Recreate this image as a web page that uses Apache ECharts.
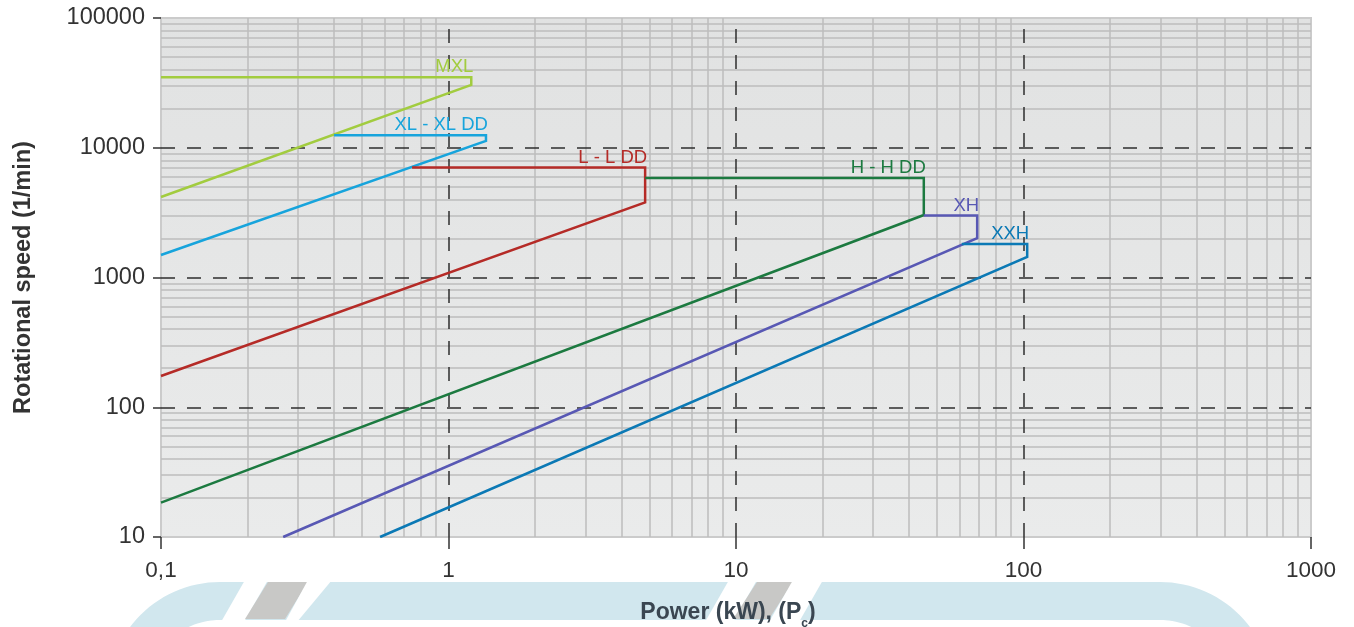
<!DOCTYPE html>
<html>
<head>
<meta charset="utf-8">
<title>Rotational speed vs power</title>
<script src="https://cdn.jsdelivr.net/npm/echarts@6/dist/echarts.min.js"></script>
<style>
  html, body { margin: 0; padding: 0; background: #fff; }
  #chart { width: 1354px; height: 627px; }
</style>
</head>
<body>
<div id="chart"></div>
<script>
// tick labels
const xTickLabels = ['0,1', '1', '10', '100', '1000']
const yTickLabels = ['10', '100', '1000', '10000', '100000']

// grid lines (decades dashed, 2..9 solid)
const xMajor = [1, 10, 100]
const yMajor = [100, 1000, 10000]
const xMinor = [0.2, 0.3, 0.4, 0.5, 0.6, 0.7, 0.8, 0.9, 2, 3, 4, 5, 6, 7, 8, 9,
  20, 30, 40, 50, 60, 70, 80, 90, 200, 300, 400, 500, 600, 700, 800, 900]
const yMinor = [20, 30, 40, 50, 60, 70, 80, 90, 200, 300, 400, 500, 600, 700, 800, 900,
  2000, 3000, 4000, 5000, 6000, 7000, 8000, 9000, 20000, 30000, 40000, 50000,
  60000, 70000, 80000, 90000]

// belt types: [power kW, speed 1/min]
const mxl = [[0.1, 35000], [1.2, 35000], [1.2, 30500], [0.1, 4170]]
const xl = [[0.4, 12500], [1.35, 12500], [1.35, 11300], [0.1, 1490]]
const lDD = [[0.747, 7050], [4.83, 7050], [4.83, 3790], [0.1, 174]]
const hDD = [[4.83, 5850], [45, 5850], [45, 3030], [0.1, 18.4]]
const xh = [[45, 3000], [69, 3000], [69, 2010], [0.266, 10]]
const xxh = [[61, 1810], [103, 1810], [103, 1440], [0.578, 10]]

const FONT = "'Liberation Sans', Arial, sans-serif"

function beltSeries(name, points, color) {
  return {
    name: name,
    type: 'line',
    z: 5,
    symbol: 'circle',
    symbolSize: 0,
    silent: true,
    animation: false,
    lineStyle: { color: color, width: 2.5, join: 'miter' },
    itemStyle: { color: color },
    data: points.map((p, i) => {
      if (i !== 1) return p
      return {
        value: p,
        label: {
          show: true,
          formatter: name,
          position: 'top',
          align: 'right',
          distance: 0.5,
          offset: [2, 0],
          color: color,
          fontSize: 18.5,
          fontFamily: FONT
        }
      }
    })
  }
}

// decorative band under the x axis
function arcPoints(cx, cy, r, a0, a1) {
  const pts = []
  for (let i = 0; i <= 30; i++) {
    const a = (a0 + (a1 - a0) * i / 30) * Math.PI / 180
    pts.push([cx + r * Math.cos(a), cy + r * Math.sin(a)])
  }
  return pts
}
const bandPts = arcPoints(220, 694.5, 93.5, 180, 270).concat(arcPoints(1160, 694.5, 93.5, 270, 360))

const chart = echarts.init(document.getElementById('chart'))
chart.setOption({
  backgroundColor: '#fff',
  animation: false,
  textStyle: { fontFamily: FONT },
  graphic: [
    { type: 'polyline', z: -10, silent: true, shape: { points: bandPts },
      style: { stroke: '#d1e7ee', lineWidth: 38, fill: null } },
    { type: 'polygon', z: -9, silent: true, shape: { points: [[245, 580], [268, 580], [244, 622], [221, 622]] }, style: { fill: '#fff' } },
    { type: 'polygon', z: -9, silent: true, shape: { points: [[268, 582], [308, 582], [285, 619], [245, 619]] }, style: { fill: '#c8c8c6' } },
    { type: 'polygon', z: -9, silent: true, shape: { points: [[308, 580], [332, 580], [297, 622], [285, 622]] }, style: { fill: '#fff' } },
    { type: 'polygon', z: -9, silent: true, shape: { points: [[729, 580], [757, 580], [733, 622], [705, 622]] }, style: { fill: '#fff' } },
    { type: 'polygon', z: -9, silent: true, shape: { points: [[757, 582], [793, 582], [769, 619], [733, 619]] }, style: { fill: '#c8c8c6' } },
    { type: 'polygon', z: -9, silent: true, shape: { points: [[793, 580], [823, 580], [799, 622], [769, 622]] }, style: { fill: '#fff' } }
  ],
  grid: {
    left: 161,
    right: 43,
    top: 18,
    bottom: 90,
    outerBoundsMode: 'none',
    show: true,
    backgroundColor: {
      type: 'linear', x: 0, y: 0, x2: 0, y2: 1,
      colorStops: [{ offset: 0, color: '#e1e2e2' }, { offset: 1, color: '#eaebeb' }]
    },
    borderColor: '#cbcbcb',
    borderWidth: 2
  },
  xAxis: {
    type: 'log',
    logBase: 10,
    min: 0.1,
    max: 1000,
    name: '{a|Power (kW), (P}{sub|c}{a|)}',
    nameLocation: 'middle',
    nameGap: 61,
    nameTextStyle: {
      padding: [0, 16, 0, 0],
      rich: {
        a: { fontSize: 23, fontWeight: 'bold', color: '#3a4651', lineHeight: 30, fontFamily: FONT },
        sub: { fontSize: 12, fontWeight: 'bold', color: '#3a4651', lineHeight: 14, padding: [22, 0, 0, 0], fontFamily: FONT }
      }
    },
    axisLine: { show: false },
    axisTick: { show: true, inside: false, length: 12, lineStyle: { color: '#333', width: 1.5 } },
    axisLabel: {
      margin: 22,
      fontSize: 22.5,
      color: '#333',
      fontFamily: FONT,
      formatter: (v, i) => xTickLabels[i]
    },
    splitLine: { show: false },
    minorTick: { show: false }
  },
  yAxis: {
    type: 'log',
    logBase: 10,
    min: 10,
    max: 100000,
    name: 'Rotational speed (1/min)',
    nameLocation: 'middle',
    nameRotate: 90,
    nameGap: 125,
    nameTextStyle: { fontSize: 23.5, fontWeight: 'bold', color: '#333', fontFamily: FONT },
    axisLine: { show: false },
    axisTick: { show: true, inside: false, length: 8, lineStyle: { color: '#333', width: 1.5 } },
    axisLabel: {
      margin: 16,
      fontSize: 23.5,
      color: '#333',
      fontFamily: FONT,
      formatter: (v, i) => yTickLabels[i]
    },
    splitLine: { show: false }
  },
  series: [
    {
      name: 'minor grid',
      type: 'line',
      z: 1,
      data: [],
      silent: true,
      markLine: {
        silent: true,
        animation: false,
        symbol: ['none', 'none'],
        label: { show: false },
        lineStyle: { color: '#bcbcbc', width: 1.5, type: 'solid' },
        data: xMinor.map(v => ({ xAxis: v })).concat(yMinor.map(v => ({ yAxis: v })))
      }
    },
    {
      name: 'major grid',
      type: 'line',
      z: 2,
      data: [],
      silent: true,
      markLine: {
        silent: true,
        animation: false,
        symbol: ['none', 'none'],
        label: { show: false },
        lineStyle: { color: '#2e2e2e', width: 1.5, type: [14, 12] },
        data: xMajor.map(v => ({ xAxis: v })).concat(yMajor.map(v => ({ yAxis: v })))
      }
    },
    beltSeries('MXL', mxl, '#a2cc3f'),
    beltSeries('XL - XL DD', xl, '#17a4dc'),
    beltSeries('L - L DD', lDD, '#b52b27'),
    beltSeries('H - H DD', hDD, '#1c7a40'),
    beltSeries('XH', xh, '#5858b4'),
    beltSeries('XXH', xxh, '#0b79b5')
  ]
})
</script>
</body>
</html>
